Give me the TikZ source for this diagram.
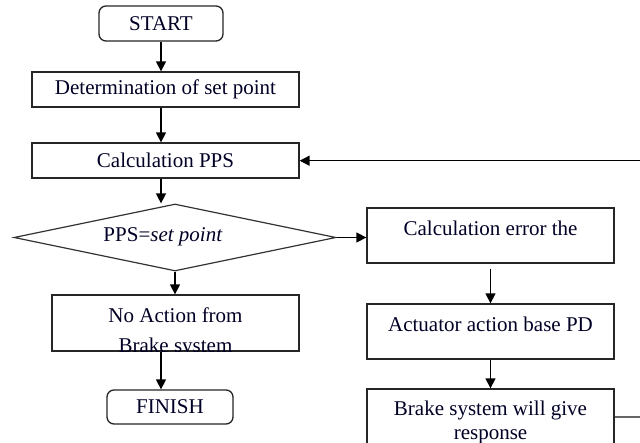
\documentclass[tikz,border=0pt]{standalone}
\usepackage{fontspec}
\setmainfont{Liberation Serif}
\usetikzlibrary{arrows.meta,shapes.geometric,calc}
\begin{document}
\begin{tikzpicture}[x=1pt,y=-1pt,
  font=\fontsize{21}{24}\selectfont,
  every node/.style={text=black!85!blue},
  box/.style={draw=black!85,line width=1.3pt,rectangle,inner sep=0pt},
  term/.style={draw=black!85,line width=1.3pt,rectangle,rounded corners=7pt,inner sep=0pt},
  arr/.style={draw=black,line width=1.4pt,-{Triangle[length=10pt,width=10pt]}},
  ln/.style={draw=black!85,line width=1.4pt}]
\useasboundingbox (0,0) rectangle (640,443);
\fill[white] (0,0) rectangle (640,443);
% left column
\node[term,minimum width=124pt,minimum height=35pt] (start) at (161,23.5) {START};
\node[box,minimum width=267pt,minimum height=35pt] (det) at (165.5,89.5) {Determination of set point};
\node[box,minimum width=267pt,minimum height=35pt] (pps) at (165.5,160.5) {Calculation PPS};
\node[draw=black!80,line width=1.2pt,diamond,aspect=4.8,minimum width=322pt,minimum height=67pt,inner sep=0pt] (dec) at (175,237.5) {};
\node at (163,237) {PPS=\textit{set point}};
\node[box,minimum width=247pt,minimum height=56pt] (nab) at (175.5,323) {};
\begin{scope}
\clip (nab.south west) rectangle (nab.north east);
\node (nabt1) at (175.5,315) {No Action from};
\node (nabt2) at (175.5,347) {Brake system};
\end{scope}
\node[term,minimum width=126pt,minimum height=34pt] (fin) at (170,407) {FINISH};
% right column
\node[box,minimum width=247pt,minimum height=55pt] (err) at (490.5,235.5) {};
\node at (490.5,228) {Calculation error the};
\node[box,minimum width=247pt,minimum height=55pt] (act) at (490.5,331.5) {};
\node at (490.5,324) {Actuator action base PD};
\node[box,minimum width=247pt,minimum height=80pt] (brk) at (490.5,429) {};
\begin{scope}
\clip (0,0) rectangle (640,443);
\node at (490.5,410) {Brake system will give};
\node at (490.5,437) {response};
\end{scope}
\coordinate (fbin) at (640,160.7);
\coordinate (fbout) at (640,417);
% connectors
\draw[arr] (start.south) -- (start.south |- det.north);
\draw[arr] (start.south |- det.south) -- (start.south |- pps.north);
\draw[arr] (start.south |- pps.south) -- (start.south |- dec.north);
\draw[arr] (fbin) -- (fbin -| pps.east);
\draw[arr] (dec.south) -- (dec.south |- nab.north);
\draw[arr] (start.south |- nab.south) -- (start.south |- fin.north);
\draw[arr] (dec.east) -- (dec.east -| err.west);
\draw[arr] (err.south) ++(0,5) -- (act.north);
\draw[arr] (act.south) -- (brk.north);
\draw[ln,draw=black!60] (fbout -| brk.east) -- (fbout);
\end{tikzpicture}
\end{document}
